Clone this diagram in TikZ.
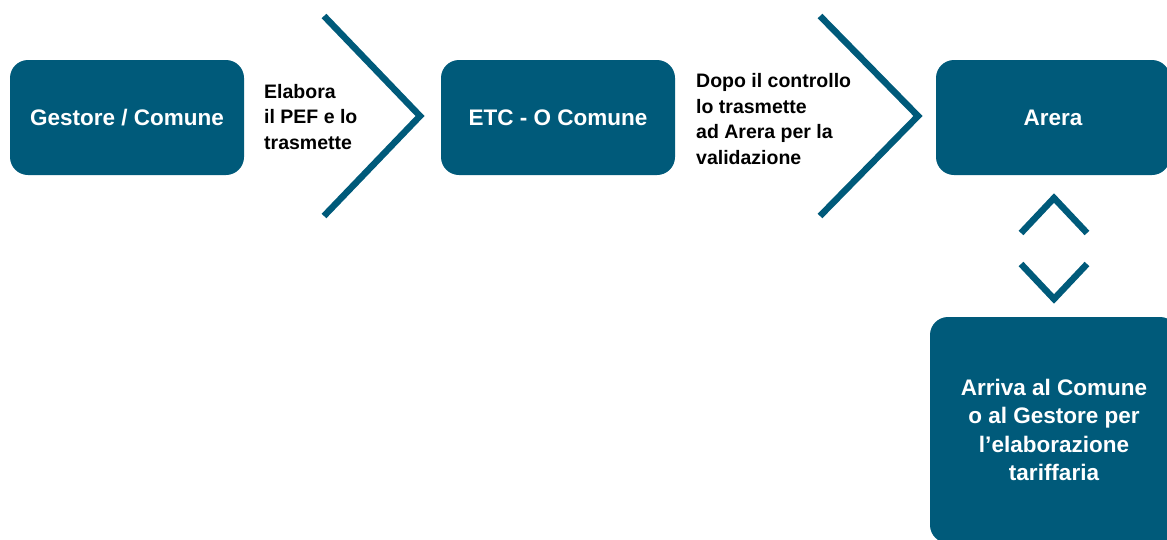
\documentclass[tikz,border=0pt]{standalone}
\usepackage{fontspec}
\setmainfont{Liberation Sans}
\usetikzlibrary{positioning}
\definecolor{petrol}{RGB}{0,90,122}

\tikzset{
    stepbox/.style={rectangle, rounded corners=18pt, fill=petrol, text=white, font=\bfseries\fontsize{22.5}{28.3}\selectfont, align=center, inner sep=0pt},
    steplabel/.style={anchor=west, align=left, font=\bfseries\fontsize{19.5}{25.5}\selectfont, inner sep=0pt},
    chevron/.style={draw=petrol, line width=6.5pt}
}

\begin{document}
\begin{tikzpicture}[x=1pt, y=-1pt]
    \useasboundingbox (0,0) rectangle (1167,539);
    \clip (0,0) rectangle (1167,539);

    %Boxes
    \node[stepbox, minimum width=234, minimum height=115] (gestore) at (127, 117.5) {Gestore / Comune};
    \node[stepbox, minimum width=234, minimum height=115] (etc) at (558, 117.5) {ETC - O Comune};
    \node[stepbox, minimum width=234, minimum height=115] (arera) at (1053, 117.5) {Arera};
    \node[stepbox, minimum width=248, minimum height=226] (arriva) at (1054, 430) {Arriva al Comune\\o al Gestore per\\l’elaborazione\\tariffaria};

    %Labels
    \node[steplabel] (elabora) at (264, 117) {Elabora\\il PEF e lo\\trasmette};
    \node[steplabel] (dopo) at (696, 119) {Dopo il controllo\\lo trasmette\\ad Arera per la\\validazione};

    %Chevrons
    \draw[chevron] (324, 16) -- (420, 116) -- (324, 216);
    \draw[chevron] (820, 16) -- (918, 116) -- (820, 216);
    \draw[chevron] (1021, 233) -- (1054, 198) -- (1087, 233);
    \draw[chevron] (1021, 264) -- (1054, 299) -- (1087, 264);
\end{tikzpicture}
\end{document}
